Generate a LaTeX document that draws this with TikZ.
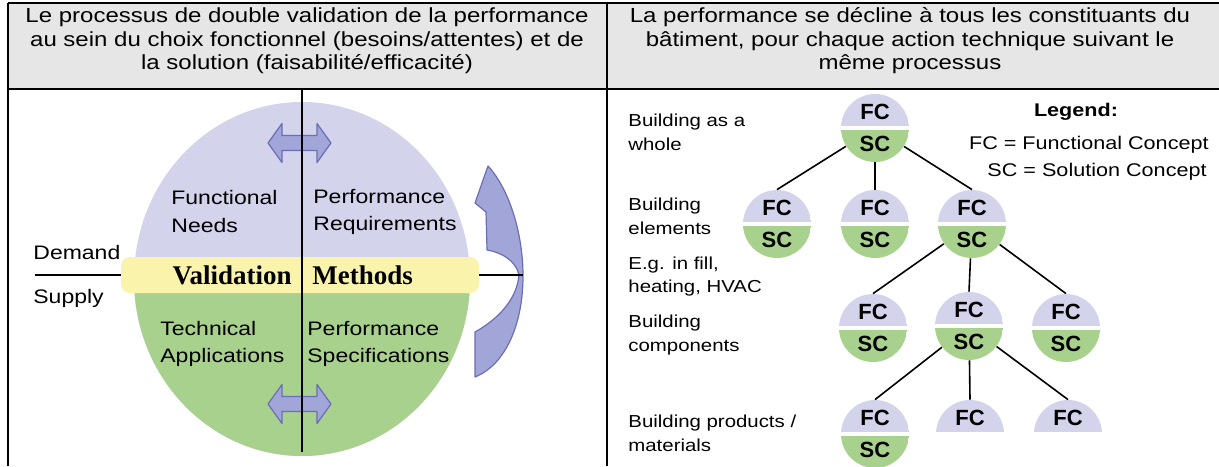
\documentclass[tikz,border=0pt]{standalone}
\usepackage{fontspec}
\setmainfont{Liberation Serif}
\setsansfont{Liberation Sans}
\usepackage{tikz}
\definecolor{headgray}{HTML}{E6E6E6}
\definecolor{lav}{HTML}{D3D3EC}
\definecolor{leaf}{HTML}{A9D18E}
\definecolor{band}{HTML}{FAF3AB}
\definecolor{arrfill}{HTML}{A2A5D8}
\definecolor{arrline}{HTML}{6A6EB4}

\begin{document}
\begin{tikzpicture}[
  x=0.5pt,y=-0.5pt,
  every node/.style={font=\sffamily,inner sep=0pt},
  grid/.style={line width=1.3pt},
  head/.style={font=\sffamily\fontsize{12}{13.8}\selectfont,align=center,yscale=0.85},
  lbl/.style={font=\sffamily\fontsize{11.5}{15.9}\selectfont,align=left,anchor=west,yscale=0.85},
  side/.style={font=\sffamily\fontsize{10.2}{14.1}\selectfont,align=left,anchor=west,yscale=0.85},
  meth/.style={font=\rmfamily\bfseries\fontsize{13.5}{16}\selectfont},
  arrsty/.style={draw=arrline,fill=arrfill,line width=0.6pt,line join=round},
  concept/.style={circle,minimum size=34pt,align=center,
    font=\sffamily\bfseries\fontsize{11}{16}\selectfont,
    path picture={
      \fill[lav] (path picture bounding box.north west) rectangle
        ([yshift=1pt]path picture bounding box.east);
      \fill[leaf] ([yshift=-1pt]path picture bounding box.west) rectangle
        (path picture bounding box.south east);}},
  fconly/.style={concept,
    path picture={
      \fill[lav] (path picture bounding box.north west) rectangle
        ([yshift=1pt]path picture bounding box.east);}},
  link/.style={draw,line width=0.8pt}
]
\useasboundingbox (0,0) rectangle (1219,466);

% table
\fill[headgray] (8,3) rectangle (1219,89);
\draw[grid] (8,3) -- (1219,3);
\draw[grid] (8,89) -- (1219,89);
\draw[grid] (8,3) -- (8,466);
\draw[grid] (607,3) -- (607,466);

\node[head] (headL) at (307,41) {Le processus de double validation de la performance\\
au sein du choix fonctionnel (besoins/attentes) et de\\
la solution (faisabilité/efficacité)};
\node[head] (headR) at (910,41) {La performance se décline à tous les constituants du\\
bâtiment, pour chaque action technique suivant le\\
même processus};

% left: demand / supply circle
\fill[lav] (302,279) ellipse [x radius=168,y radius=177];
\begin{scope}
  \clip (120,275) rectangle (480,460);
  \fill[leaf] (302,279) ellipse [x radius=168,y radius=177];
\end{scope}
\fill[band,rounded corners=4.5pt] (121,257) rectangle (479,293);

\foreach \y in {143,404}
  \draw[arrsty] (268,\y) -- (282,\y-19.5) -- (282,\y-7.5) -- (317,\y-7.5)
    -- (317,\y-19.5) -- (331,\y) -- (317,\y+19.5) -- (317,\y+7.5)
    -- (282,\y+7.5) -- (282,\y+19.5) -- cycle;

\draw[arrsty] (475,377) -- (475,332) .. controls (500,318) and (517,298) .. (519,275)
  .. controls (516,260) and (500,252) .. (487,250) -- (486,212) -- (475,203)
  -- (488,166) .. controls (510,190) and (523,235) .. (523,276)
  .. controls (523,325) and (505,365) .. (475,377) -- cycle;

\draw[line width=0.6pt] (302,89) -- (302,452);
\draw[line width=0.6pt] (35,275) -- (121,275);
\draw[line width=0.6pt] (479,275) -- (523,275);

\node[lbl] (demand) at (33,253) {Demand};
\node[lbl] (supply) at (33,298) {Supply};
\node[lbl] (needs) at (171,211.5) {Functional\\Needs};
\node[lbl] (req) at (313,211.5) {Performance\\Requirements};
\node[lbl] (tech) at (160,343.5) {Technical\\Applications};
\node[lbl] (spec) at (307,343.5) {Performance\\Specifications};
\node[meth,anchor=east] (valid) at (292,275) {Validation};
\node[meth,anchor=west] (meths) at (312,275) {Methods};

% right: FC / SC tree
\node[side] (lvl1) at (628,132.5) {Building as a\\whole};
\node[side] (lvl2) at (628,216) {Building\\elements};
\node[side] (lvl2b) at (628,276.5) {E.g. in fill,\\heating, HVAC};
\node[side] (lvl3) at (628,335) {Building\\components};
\node[side] (lvl4) at (628,433.5) {Building products /\\materials};

\node[font=\sffamily\bfseries\fontsize{10.8}{13}\selectfont,yscale=0.85] (leg) at (1076,112) {Legend:};
\node[font=\sffamily\fontsize{10.8}{13}\selectfont,yscale=0.85,anchor=east] (legfc) at (1209,145) {FC = Functional Concept};
\node[font=\sffamily\fontsize{10.8}{13}\selectfont,yscale=0.85,anchor=east] (legsc) at (1207,172) {SC = Solution Concept};

\node[concept] (root) at (875,128) {FC\\SC};
\node[concept] (e1) at (777,224) {FC\\SC};
\node[concept] (e2) at (875,224) {FC\\SC};
\node[concept] (e3) at (972,224) {FC\\SC};
\node[concept] (c1) at (873,328) {FC\\SC};
\node[concept] (c2) at (969,326) {FC\\SC};
\node[concept] (c3) at (1066,328) {FC\\SC};
\node[concept] (p1) at (875,434) {FC\\SC};
\node[fconly] (p2) at (970,434) {FC\\\phantom{SC}};
\node[fconly] (p3) at (1068,434) {FC\\\phantom{SC}};

\draw[link] (root) -- (e1.north);
\draw[link] (root) -- (e2.north);
\draw[link] (root) -- (e3.north);
\draw[link] (e3) -- (c1.north);
\draw[link] (e3) -- (c2.north);
\draw[link] (e3) -- (c3.north);
\draw[link] (c2) -- (p1.north);
\draw[link] (c2) -- (p2.north);
\draw[link] (c2) -- (p3.north);
\end{tikzpicture}
\end{document}
